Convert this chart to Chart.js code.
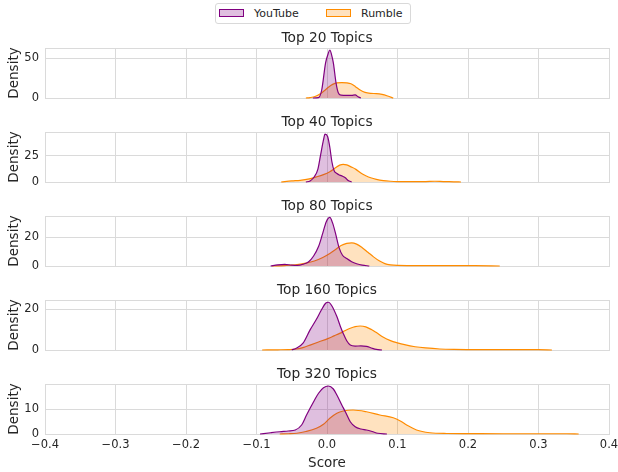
<!DOCTYPE html>
<html>
<head>
<meta charset="utf-8">
<script src="https://cdn.jsdelivr.net/npm/chart.js@4.4.1/dist/chart.umd.min.js"></script>
<style>
  body { margin: 0; background: #fff; width: 618px; height: 472px; position: relative; overflow: hidden; font-family: 'DejaVu Sans', sans-serif; }
  .panel { position: absolute; left: 0; width: 618px; }
  #legend { position: absolute; left: 215px; top: 3px; width: 194px; height: 19px; border: 1px solid #d9d9d9; border-radius: 3px; background: #fff; font-size: 11px; color: #262626; }
  #legend .item { position: absolute; top: 0; height: 19px; line-height: 19px; }
  #legend .box { position: absolute; top: 5px; left: 0; width: 23px; height: 6px; }
  #legend .txt { position: absolute; top: 0; white-space: nowrap; }
</style>
</head>
<body>
<div id="legend"></div>
<div class="panel" style="top:30px;height:76px"><canvas id="top20"></canvas></div>
<div class="panel" style="top:114px;height:76px"><canvas id="top40"></canvas></div>
<div class="panel" style="top:198px;height:76px"><canvas id="top80"></canvas></div>
<div class="panel" style="top:282px;height:76px"><canvas id="top160"></canvas></div>
<div class="panel" style="top:366px;height:106px"><canvas id="top320"></canvas></div>
<script>
// Top 20
var ytX20 = [-0.02, -0.012, -0.0075, -0.002, 0.0015, 0.004, 0.0065, 0.009, 0.0128, 0.016, 0.02, 0.028, 0.035, 0.04, 0.044, 0.048];
var ytY20 = [0, 0.5, 10, 44, 55, 60, 54, 44, 19, 6.6, 3.5, 3.2, 3.3, 4, 1.5, 0];
var rbX20 = [-0.03, -0.024, -0.017, -0.01, -0.004, 0.002, 0.008, 0.014, 0.021, 0.028, 0.034, 0.04, 0.047, 0.054, 0.062, 0.07, 0.078, 0.086, 0.094];
var rbY20 = [0, 0.5, 1.8, 5, 9, 13.5, 17, 19, 19.3, 19, 17.8, 14.5, 10, 7, 5.8, 5.5, 4.5, 2.5, 0];

// Top 40
var ytX40 = [-0.03, -0.024, -0.018, -0.013, -0.009, -0.005, -0.0028, 0.001, 0.004, 0.007, 0.010, 0.014, 0.018, 0.022, 0.026, 0.030, 0.035];
var ytY40 = [0, 1, 5, 12, 26, 40, 45.5, 43, 33, 19, 11, 8, 6.5, 5.5, 4, 1.5, 0];
var rbX40 = [-0.065, -0.05, -0.038, -0.025, -0.015, -0.005, 0.004, 0.012, 0.018, 0.023, 0.028, 0.034, 0.041, 0.048, 0.055, 0.062, 0.07, 0.08, 0.09, 0.1, 0.12, 0.14, 0.153, 0.165, 0.18, 0.19];
var rbY40 = [0, 1, 1.6, 3, 4.8, 7, 9.8, 13.5, 16, 16.8, 16.2, 14.4, 12, 8.5, 6, 4, 2.5, 1.3, 0.7, 0.4, 0.3, 0.4, 0.7, 0.4, 0.2, 0];

// Top 80
var ytX80 = [-0.08, -0.07, -0.06, -0.05, -0.042, -0.034, -0.026, -0.019, -0.012, -0.006, -0.001, 0.004, 0.008, 0.012, 0.017, 0.022, 0.028, 0.035, 0.042, 0.05, 0.06];
var ytY80 = [0, 0.8, 1.2, 0.6, 0.4, 1.2, 3, 7, 13.6, 23, 31, 34, 30, 23, 13, 7.5, 5.2, 3, 1.6, 0.6, 0];
var rbX80 = [-0.078, -0.06, -0.045, -0.03, -0.018, -0.006, 0.004, 0.012, 0.02, 0.028, 0.035, 0.042, 0.05, 0.058, 0.066, 0.074, 0.082, 0.09, 0.1, 0.12, 0.15, 0.18, 0.21, 0.245];
var rbY80 = [0, 0.3, 0.8, 2, 3.5, 6, 8.8, 11.5, 14.3, 15.8, 16.2, 15.3, 12.8, 9.6, 6.4, 3.6, 1.7, 0.8, 0.4, 0.3, 0.3, 0.3, 0.2, 0];

// Top 160
var ytX160 = [-0.05, -0.043, -0.034, -0.024, -0.015, -0.008, -0.002, 0.002, 0.007, 0.014, 0.019, 0.023, 0.028, 0.033, 0.04, 0.048, 0.056, 0.063, 0.07, 0.078];
var ytY160 = [0, 1, 3.3, 9.8, 15, 19.5, 22.8, 23.3, 21.5, 16.3, 11.5, 8.1, 4.5, 2.4, 1.9, 2, 1.8, 1, 0.3, 0];
var rbX160 = [-0.092, -0.07, -0.055, -0.043, -0.033, -0.024, -0.012, 0.002, 0.01, 0.018, 0.026, 0.033, 0.04, 0.047, 0.055, 0.063, 0.07, 0.08, 0.09, 0.1, 0.11, 0.125, 0.14, 0.16, 0.18, 0.22, 0.26, 0.3, 0.319];
var rbY160 = [0, 0.1, 0.2, 0.5, 1.3, 2.4, 3.9, 5.7, 6.9, 8.1, 9.5, 10.6, 11.4, 11.7, 11.3, 10, 8.5, 6.2, 4.6, 3.5, 2.6, 1.6, 1, 0.5, 0.3, 0.2, 0.2, 0.15, 0];

// Top 320
var ytX320 = [-0.095, -0.08, -0.067, -0.055, -0.045, -0.036, -0.029, -0.019, -0.012, -0.005, 0.002, 0.009, 0.014, 0.021, 0.026, 0.033, 0.04, 0.048, 0.056, 0.064, 0.072, 0.085];
var ytY320 = [0, 0.5, 0.9, 1.2, 1.6, 3.6, 7.6, 12.9, 16.3, 18.5, 19.2, 18, 15.6, 11.6, 8.9, 4.9, 2.9, 2, 1.6, 1, 0.3, 0];
var rbX320 = [-0.067, -0.055, -0.043, -0.03, -0.015, -0.005, 0.004, 0.014, 0.023, 0.037, 0.056, 0.075, 0.094, 0.104, 0.113, 0.127, 0.146, 0.17, 0.2, 0.25, 0.3, 0.34, 0.357];
var rbY320 = [0, 0.1, 0.3, 1, 2.3, 3.9, 6.3, 8.3, 9.2, 9.6, 8.9, 7.6, 6.5, 5.2, 3.6, 1.6, 0.5, 0.2, 0.15, 0.1, 0.1, 0.1, 0];

var xTicks = [-0.4, -0.3, -0.2, -0.1, 0.0, 0.1, 0.2, 0.3, 0.4];

Chart.defaults.font.family = "'DejaVu Sans', sans-serif";
Chart.defaults.color = '#262626';

var gridColor = '#dadada';

function pts(xs, ys) {
    return xs.map(function (x, i) { return { x: x, y: ys[i] }; });
}

function panel(id, title, ytX, ytY, rbX, rbY, yMax, yStep, last) {
    var ctx = document.getElementById(id).getContext('2d');
    return new Chart(ctx, {
        type: 'line',
        data: {
            datasets: [{
                label: 'YouTube',
                data: pts(ytX, ytY),
                borderColor: '#800080',
                backgroundColor: 'rgba(128,0,128,0.25)',
                borderWidth: 1.2,
                fill: 'origin',
                clip: 3
            }, {
                label: 'Rumble',
                data: pts(rbX, rbY),
                borderColor: '#ff8c00',
                backgroundColor: 'rgba(255,140,0,0.25)',
                borderWidth: 1.2,
                fill: 'origin',
                clip: 3
            }]
        },
        options: {
            responsive: true,
            maintainAspectRatio: false,
            animation: false,
            cubicInterpolationMode: 'monotone',
            elements: { point: { radius: 0 } },
            layout: { autoPadding: false, padding: { left: 0, right: 9, top: 0, bottom: 0 } },
            plugins: {
                legend: { display: false },
                tooltip: { enabled: false },
                title: {
                    display: true,
                    text: title,
                    fullSize: false,
                    font: { size: 13.75, weight: 'normal' },
                    padding: { top: 0, bottom: 1.5 }
                }
            },
            scales: {
                x: {
                    type: 'linear',
                    min: -0.4,
                    max: 0.4,
                    afterBuildTicks: function (s) { s.ticks = xTicks.map(function (v) { return { value: v }; }); },
                    afterFit: function (s) {
                        s.height = last ? 38 : 8;
                        s.paddingLeft = 0;
                        s.paddingRight = 0;
                    },
                    grid: { color: gridColor, drawTicks: false },
                    border: { color: gridColor },
                    ticks: {
                        display: last,
                        autoSkip: false,
                        maxRotation: 0,
                        padding: 4,
                        font: { size: 11.5 },
                        callback: function (v) { return v.toFixed(1).replace('-', '\u2212').replace('\u22120.0', '0.0'); }
                    },
                    title: {
                        display: last,
                        text: 'Score',
                        font: { size: 13.5 },
                        padding: { top: 3, bottom: 0 }
                    }
                },
                y: {
                    min: 0,
                    max: yMax,
                    afterBuildTicks: function (s) { s.ticks = [{ value: 0 }, { value: yStep }, { value: yMax }]; },
                    afterFit: function (s) {
                        s.width = 45;
                        s.paddingTop = 0;
                        s.paddingBottom = 0;
                    },
                    grid: { color: gridColor, drawTicks: false },
                    border: { color: gridColor },
                    ticks: {
                        padding: 6,
                        font: { size: 11.5 },
                        callback: function (v) { return v === yMax ? '' : v; }
                    },
                    title: {
                        display: true,
                        text: 'Density',
                        font: { size: 13.5 },
                        padding: { top: 6, bottom: 0 }
                    }
                }
            }
        }
    });
}

var c20 = panel('top20', 'Top 20 Topics', ytX20, ytY20, rbX20, rbY20, 62.5, 50, false);
var c40 = panel('top40', 'Top 40 Topics', ytX40, ytY40, rbX40, rbY40, 47.5, 25, false);
var c80 = panel('top80', 'Top 80 Topics', ytX80, ytY80, rbX80, rbY80, 35, 20, false);
var c160 = panel('top160', 'Top 160 Topics', ytX160, ytY160, rbX160, rbY160, 24.4, 20, false);
var c320 = panel('top320', 'Top 320 Topics', ytX320, ytY320, rbX320, rbY320, 20, 10, true);

// legend built from the first chart's datasets
var legend = document.getElementById('legend');
var offsets = [3, 110];
c20.data.datasets.forEach(function (ds, i) {
    var item = document.createElement('div');
    item.className = 'item';
    item.style.left = offsets[i] + 'px';
    var box = document.createElement('span');
    box.className = 'box';
    box.style.background = ds.backgroundColor;
    box.style.border = '1.2px solid ' + ds.borderColor;
    var txt = document.createElement('span');
    txt.className = 'txt';
    txt.style.left = '35px';
    txt.textContent = ds.label;
    item.appendChild(box);
    item.appendChild(txt);
    legend.appendChild(item);
});
</script>
</body>
</html>
